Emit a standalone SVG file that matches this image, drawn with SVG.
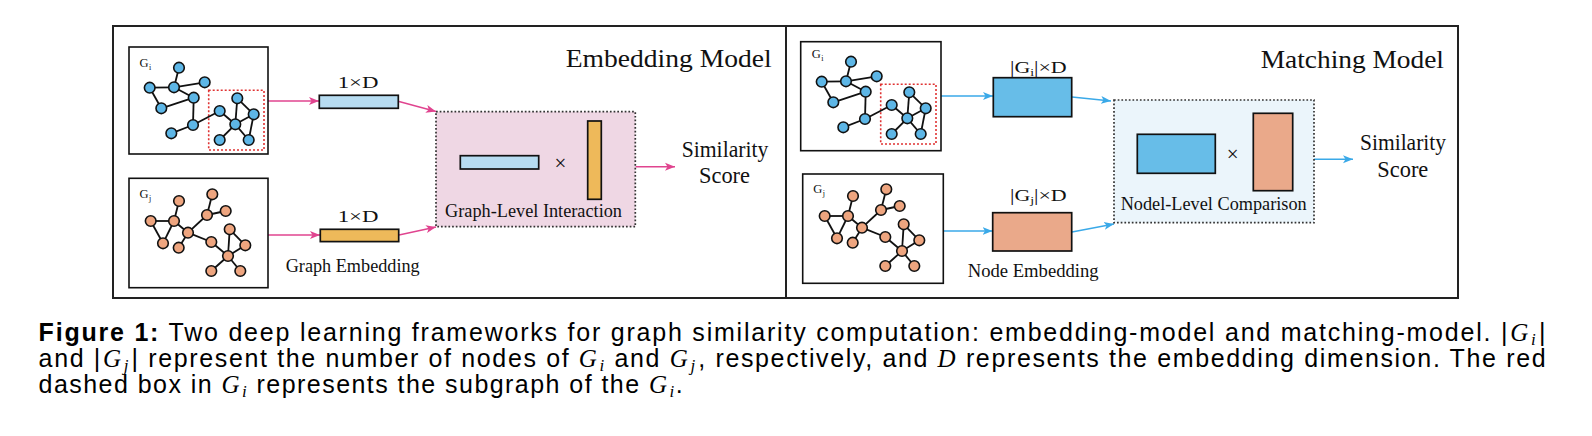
<svg xmlns="http://www.w3.org/2000/svg" width="1592" height="436" viewBox="0 0 1592 436">
<style>
.frame{fill:none;stroke:#222;stroke-width:2}
.box{fill:#fff;stroke:#111;stroke-width:1.6}
.sub{fill:none;stroke:#e03333;stroke-width:1.6;stroke-dasharray:2 2}
.edge{stroke:#111;stroke-width:1.8;fill:none}
.nb{fill:#5db6e6;stroke:#111;stroke-width:1.6}
.no{fill:#eea57f;stroke:#111;stroke-width:1.6}
.bar{stroke:#111;stroke-width:1.7}
.dot{stroke:#333;stroke-width:1.7;stroke-dasharray:1.7 2}
.lbl{font-family:"Liberation Serif","DejaVu Serif",serif;fill:#111}
.ap{stroke:#e0448f;stroke-width:1.4;fill:none}
.ab{stroke:#3aa9e8;stroke-width:1.4;fill:none}
.cap{font-family:"Liberation Sans",Arial,sans-serif;font-size:25px;fill:#000}
.m{font-family:"Liberation Serif",serif;font-style:italic}
</style>
<defs>
<marker id="hp" markerUnits="userSpaceOnUse" markerWidth="11" markerHeight="9" refX="10" refY="4.5" orient="auto"><path d="M0,0.5 L10,4.5 L0,8.5 L2.5,4.5 Z" fill="#e0448f"/></marker>
<marker id="hb" markerUnits="userSpaceOnUse" markerWidth="11" markerHeight="9" refX="10" refY="4.5" orient="auto"><path d="M0,0.5 L10,4.5 L0,8.5 L2.5,4.5 Z" fill="#3aa9e8"/></marker>
<g id="graphI">
<g class="edge">
<line x1="179" y1="67.7" x2="174" y2="87.3"/>
<line x1="149.7" y1="87.7" x2="174" y2="87.3"/>
<line x1="174" y1="87.3" x2="204.7" y2="82.3"/>
<line x1="149.7" y1="87.7" x2="161.3" y2="108.3"/>
<line x1="174" y1="87.3" x2="193.7" y2="97.7"/>
<line x1="161.3" y1="108.3" x2="193.7" y2="97.7"/>
<line x1="193.7" y1="97.7" x2="193" y2="125"/>
<line x1="193" y1="125" x2="171.3" y2="133.3"/>
<line x1="193" y1="125" x2="219.7" y2="111"/>
<line x1="219.7" y1="111" x2="235.3" y2="124.3"/>
<line x1="237.3" y1="98.3" x2="235.3" y2="124.3"/>
<line x1="237.3" y1="98.3" x2="253.7" y2="114.3"/>
<line x1="253.7" y1="114.3" x2="248.7" y2="140"/>
<line x1="235.3" y1="124.3" x2="253.7" y2="114.3"/>
<line x1="235.3" y1="124.3" x2="219.7" y2="140"/>
<line x1="235.3" y1="124.3" x2="248.7" y2="140"/>
</g>
<g class="nb">
<circle cx="179" cy="67.7" r="5.3"/><circle cx="149.7" cy="87.7" r="5.3"/><circle cx="174" cy="87.3" r="5.3"/><circle cx="204.7" cy="82.3" r="5.3"/><circle cx="193.7" cy="97.7" r="5.3"/><circle cx="161.3" cy="108.3" r="5.3"/><circle cx="219.7" cy="111" r="5.3"/><circle cx="237.3" cy="98.3" r="5.3"/><circle cx="253.7" cy="114.3" r="5.3"/><circle cx="235.3" cy="124.3" r="5.3"/><circle cx="193" cy="125" r="5.3"/><circle cx="171.3" cy="133.3" r="5.3"/><circle cx="219.7" cy="140" r="5.3"/><circle cx="248.7" cy="140" r="5.3"/>
</g>
</g>
<g id="graphJ">
<g class="edge">
<line x1="179" y1="201" x2="174" y2="221"/>
<line x1="150.7" y1="221" x2="174" y2="221"/>
<line x1="150.7" y1="221" x2="163" y2="243.3"/>
<line x1="174" y1="221" x2="163" y2="243.3"/>
<line x1="174" y1="221" x2="188" y2="232.7"/>
<line x1="188" y1="232.7" x2="178.7" y2="247.7"/>
<line x1="188" y1="232.7" x2="207" y2="215"/>
<line x1="207" y1="215" x2="212.3" y2="194.3"/>
<line x1="207" y1="215" x2="225.7" y2="211"/>
<line x1="188" y1="232.7" x2="211.3" y2="242"/>
<line x1="211.3" y1="242" x2="228" y2="256"/>
<line x1="229.7" y1="229.3" x2="228" y2="256"/>
<line x1="229.7" y1="229.3" x2="245.3" y2="245.3"/>
<line x1="245.3" y1="245.3" x2="228" y2="256"/>
<line x1="228" y1="256" x2="211.3" y2="271"/>
<line x1="228" y1="256" x2="240.3" y2="271"/>
</g>
<g class="no">
<circle cx="179" cy="201" r="5.3"/><circle cx="212.3" cy="194.3" r="5.3"/><circle cx="150.7" cy="221" r="5.3"/><circle cx="174" cy="221" r="5.3"/><circle cx="207" cy="215" r="5.3"/><circle cx="225.7" cy="211" r="5.3"/><circle cx="188" cy="232.7" r="5.3"/><circle cx="163" cy="243.3" r="5.3"/><circle cx="178.7" cy="247.7" r="5.3"/><circle cx="211.3" cy="242" r="5.3"/><circle cx="229.7" cy="229.3" r="5.3"/><circle cx="245.3" cy="245.3" r="5.3"/><circle cx="228" cy="256" r="5.3"/><circle cx="211.3" cy="271" r="5.3"/><circle cx="240.3" cy="271" r="5.3"/>
</g>
</g>
</defs>

<rect class="frame" x="113" y="26" width="1345" height="272"/>
<line class="frame" x1="786" y1="26" x2="786" y2="298"/>

<g id="connectors">
<line class="ap" x1="268" y1="101" x2="319" y2="101" marker-end="url(#hp)"/>
<line class="ap" x1="268" y1="235" x2="320" y2="235" marker-end="url(#hp)"/>
<line class="ap" x1="399" y1="101.5" x2="436" y2="111.5" marker-end="url(#hp)"/>
<line class="ap" x1="399" y1="235" x2="436" y2="227" marker-end="url(#hp)"/>
<line class="ap" x1="635.5" y1="166.7" x2="675" y2="166.7" marker-end="url(#hp)"/>
<line class="ab" x1="941" y1="96" x2="993" y2="96" marker-end="url(#hb)"/>
<line class="ab" x1="943" y1="231" x2="992.5" y2="231" marker-end="url(#hb)"/>
<line class="ab" x1="1072" y1="97" x2="1111" y2="101" marker-end="url(#hb)"/>
<line class="ab" x1="1072" y1="232" x2="1114" y2="224" marker-end="url(#hb)"/>
<line class="ab" x1="1314" y1="159.3" x2="1353" y2="159.3" marker-end="url(#hb)"/>
</g>

<!-- Embedding model -->
<text class="lbl" x="565.7" y="66.7" font-size="26" textLength="206" lengthAdjust="spacingAndGlyphs">Embedding Model</text>

<g id="gi-left">
<rect class="box" x="129" y="47" width="139" height="107"/>
<rect class="sub" x="208.7" y="90.3" width="55.3" height="59.7"/>
<use href="#graphI"/>
<text class="lbl" x="139.5" y="66.5" font-size="12.5">G<tspan font-size="8" dx="0.5" dy="3">i</tspan></text>
</g>

<g id="gj-left">
<rect class="box" x="129" y="178.3" width="139" height="109.4"/>
<use href="#graphJ"/>
<text class="lbl" x="139.5" y="197.5" font-size="12.5">G<tspan font-size="8" dx="0.5" dy="3">j</tspan></text>
</g>

<g id="emb-i">
<rect class="bar" x="319.3" y="95.3" width="79" height="13" fill="#b7dcf1"/>
<text class="lbl" x="337.7" y="88.3" font-size="16" textLength="40.7" lengthAdjust="spacingAndGlyphs">1×D</text>
</g>
<g id="emb-j">
<rect class="bar" x="320.3" y="229.3" width="78.4" height="12.3" fill="#eeb95a"/>
<text class="lbl" x="337.7" y="221.7" font-size="16" textLength="40.7" lengthAdjust="spacingAndGlyphs">1×D</text>
<text class="lbl" x="285.7" y="271.7" font-size="18.5" textLength="134" lengthAdjust="spacingAndGlyphs">Graph Embedding</text>
</g>

<g id="graph-interaction">
<rect x="436" y="111.7" width="199.3" height="115" fill="#efd7e4"/>
<rect class="dot" x="436" y="111.7" width="199.3" height="115" fill="none"/>
<rect class="bar" x="460.3" y="155.7" width="78.4" height="13.3" fill="#b7dcf1"/>
<text class="lbl" x="560.3" y="169.5" font-size="21" text-anchor="middle">×</text>
<rect class="bar" x="587.7" y="121" width="13.6" height="78.3" fill="#eeb95a"/>
<text class="lbl" x="445" y="216.7" font-size="19.5" textLength="177" lengthAdjust="spacingAndGlyphs">Graph-Level Interaction</text>
</g>

<g id="sim-left">
<text class="lbl" x="681.7" y="156.7" font-size="22.5" textLength="86.7" lengthAdjust="spacingAndGlyphs">Similarity</text>
<text class="lbl" x="699" y="183.3" font-size="22.5" textLength="51" lengthAdjust="spacingAndGlyphs">Score</text>
</g>

<!-- Matching model -->
<text class="lbl" x="1260.7" y="68.3" font-size="26" textLength="183.3" lengthAdjust="spacingAndGlyphs">Matching Model</text>

<g id="gi-right">
<rect class="box" x="800.7" y="41.7" width="140.3" height="109"/>
<g transform="translate(672,-6)">
<rect class="sub" x="208.7" y="90.3" width="55.3" height="59.7"/>
<use href="#graphI"/>
</g>
<text class="lbl" x="811.7" y="58.3" font-size="12.5">G<tspan font-size="8" dx="0.5" dy="3">i</tspan></text>
</g>

<g id="gj-right">
<rect class="box" x="802.7" y="174" width="140.6" height="109.3"/>
<g transform="translate(674,-5)"><use href="#graphJ"/></g>
<text class="lbl" x="813.3" y="192.7" font-size="12.5">G<tspan font-size="8" dx="0.5" dy="3">j</tspan></text>
</g>

<g id="node-emb-i">
<rect class="bar" x="993.3" y="77.7" width="78.4" height="39" fill="#67bde8"/>
<text class="lbl" x="1010" y="72.5" font-size="16" textLength="56.7" lengthAdjust="spacingAndGlyphs">|G<tspan font-size="10" dy="3">i</tspan><tspan dy="-3">|×D</tspan></text>
</g>
<g id="node-emb-j">
<rect class="bar" x="992.7" y="212.7" width="79" height="38.3" fill="#eaa98a"/>
<text class="lbl" x="1010" y="201" font-size="16" textLength="56.7" lengthAdjust="spacingAndGlyphs">|G<tspan font-size="10" dy="3">j</tspan><tspan dy="-3">|×D</tspan></text>
<text class="lbl" x="967.7" y="276.7" font-size="18.5" textLength="131" lengthAdjust="spacingAndGlyphs">Node Embedding</text>
</g>

<g id="node-comparison">
<rect x="1114" y="100" width="200" height="122.7" fill="#ebf5fb"/>
<rect class="dot" x="1114" y="100" width="200" height="122.7" fill="none"/>
<rect class="bar" x="1137.3" y="134.3" width="78" height="39" fill="#67bde8"/>
<text class="lbl" x="1232.7" y="161" font-size="21" text-anchor="middle">×</text>
<rect class="bar" x="1253.3" y="113.3" width="39.4" height="77.4" fill="#eaa98a"/>
<text class="lbl" x="1120.7" y="210" font-size="19.5" textLength="186" lengthAdjust="spacingAndGlyphs">Nodel-Level Comparison</text>
</g>

<g id="sim-right">
<text class="lbl" x="1360" y="150" font-size="22.5" textLength="86" lengthAdjust="spacingAndGlyphs">Similarity</text>
<text class="lbl" x="1377.3" y="176.7" font-size="22.5" textLength="51" lengthAdjust="spacingAndGlyphs">Score</text>
</g>

<g id="caption">
<text class="cap" x="38.6" y="341" textLength="1507" lengthAdjust="spacing"><tspan font-weight="bold">Figure 1:</tspan> Two deep learning frameworks for graph similarity computation: embedding-model and matching-model. |<tspan class="m" dx="1">G</tspan><tspan class="m" font-size="17" dx="1" dy="4">i</tspan><tspan dx="1.5" dy="-4">|</tspan></text>
<text class="cap" x="38.6" y="367" textLength="1507" lengthAdjust="spacing">and |<tspan class="m" dx="1">G</tspan><tspan class="m" font-size="17" dx="1" dy="4">j</tspan><tspan dx="1.5" dy="-4">| represent the number of nodes of </tspan><tspan class="m">G</tspan><tspan class="m" font-size="17" dx="1" dy="4">i</tspan><tspan dy="-4"> and </tspan><tspan class="m">G</tspan><tspan class="m" font-size="17" dx="1" dy="4">j</tspan><tspan dx="1.5" dy="-4">, respectively, and </tspan><tspan class="m">D</tspan> represents the embedding dimension. The red</text>
<text class="cap" x="38.6" y="393" textLength="644" lengthAdjust="spacing">dashed box in <tspan class="m">G</tspan><tspan class="m" font-size="17" dx="1" dy="4">i</tspan><tspan dy="-4"> represents the subgraph of the </tspan><tspan class="m">G</tspan><tspan class="m" font-size="17" dx="1" dy="4">i</tspan><tspan dy="-4">.</tspan></text>
</g>
</svg>
